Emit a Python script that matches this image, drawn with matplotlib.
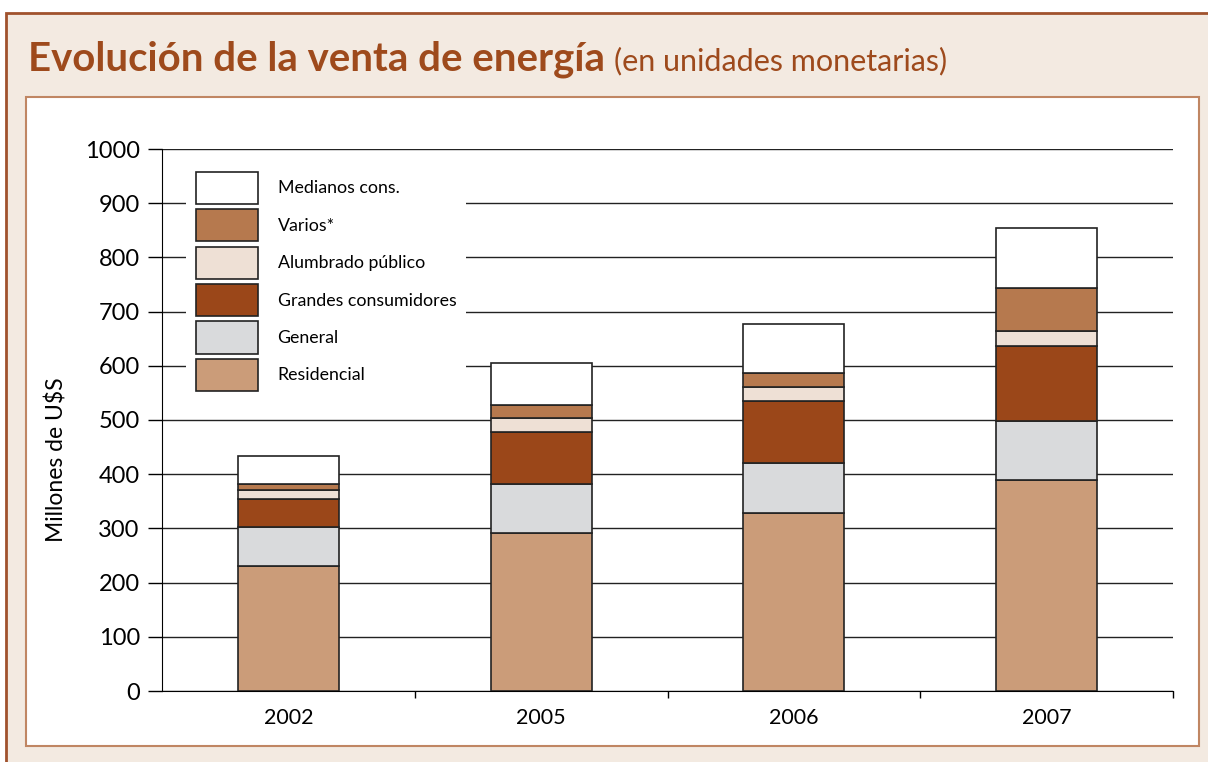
import matplotlib
matplotlib.use('Agg')
import matplotlib.pyplot as plt
from matplotlib.patches import Rectangle
import numpy as np

plt.rcParams['font.family'] = ['Lato', 'DejaVu Sans']

years = ['2002', '2005', '2006', '2007']
categories = ['Residencial', 'General', 'Grandes consumidores',
              'Alumbrado público', 'Varios*', 'Medianos cons.']
residencial = [231, 292, 328, 389]
general = [71, 90, 93, 109]
grandes = [53, 95, 114, 139]
alumbrado = [15, 26, 26, 28]
varios = [12, 24, 25, 79]
medianos = [52, 79, 91, 110]
series = [residencial, general, grandes, alumbrado, varios, medianos]
colors = ['#CB9C79', '#D9DADC', '#9B4719', '#EEE0D5', '#B6794E', '#FFFFFF']

title_color = '#9E4A1C'

fig = plt.figure(figsize=(12.08, 7.62), dpi=100)
W, H = 1208, 762

# beige outer box and white inner panel
fig.patches.append(Rectangle((6 / W, -0.05), 1.2, 1 - 13 / H + 0.05,
                             transform=fig.transFigure, facecolor='#F3EAE1',
                             edgecolor='#A0522D', linewidth=2, zorder=0))
fig.patches.append(Rectangle((26 / W, (H - 746) / H), (1199 - 26) / W, (746 - 97) / H,
                             transform=fig.transFigure, facecolor='white',
                             edgecolor='#C08663', linewidth=1.5, zorder=1))

ax = fig.add_axes([162 / W, (H - 691) / H, (1173 - 162) / W, (691 - 149) / H])
ax.set_facecolor('none')
ax.set_zorder(2)

x = np.arange(len(years))
bottom = np.zeros(len(years))
handles = []
for vals, name, c in zip(series, categories, colors):
    b = ax.bar(x, vals, 0.4, bottom=bottom, color=c, edgecolor='#222222',
               linewidth=1.2, label=name, zorder=3)
    handles.append(b)
    bottom += np.array(vals)

ax.set_xlim(-0.5, 3.5)
ax.set_ylim(0, 1000)
ax.set_yticks(range(0, 1001, 100))
ax.set_xticks(x)
ax.set_xticklabels(years, fontsize=15.5)
ax.set_xticks([0.5, 1.5, 2.5, 3.5], minor=True)
ax.tick_params(axis='x', which='major', length=0, pad=12)
ax.tick_params(axis='x', which='minor', length=5, width=1)
ax.tick_params(axis='y', length=10, width=1, labelsize=17, pad=6)
ax.yaxis.grid(True, color='#222222', linewidth=1)
ax.set_axisbelow(True)
for s in ['top', 'right']:
    ax.spines[s].set_visible(False)
ax.set_ylabel('Millones de U$S', fontsize=16.5)
ax.yaxis.set_label_coords(-0.093, 0.426)

leg = ax.legend(handles[::-1], categories[::-1], loc='upper left',
                bbox_to_anchor=(0.0237, 0.976), borderaxespad=0, fontsize=12.8,
                frameon=True, fancybox=False, edgecolor='none', facecolor='white',
                framealpha=1, handlelength=3.5, handleheight=2.4,
                labelspacing=0.3, handletextpad=1.1, borderpad=0.55)
leg.set_zorder(4)

t = fig.text(28 / W, 1 - 70 / H, 'Evolución de la venta de energía', fontsize=28.9,
             fontweight='bold', color=title_color, va='baseline')
fig.canvas.draw()
bb = t.get_window_extent()
fig.text((bb.x1 + 9) / W, 1 - 70 / H, '(en unidades monetarias)', fontsize=22,
         color=title_color, va='baseline')

fig.savefig('out.png', dpi=100)
